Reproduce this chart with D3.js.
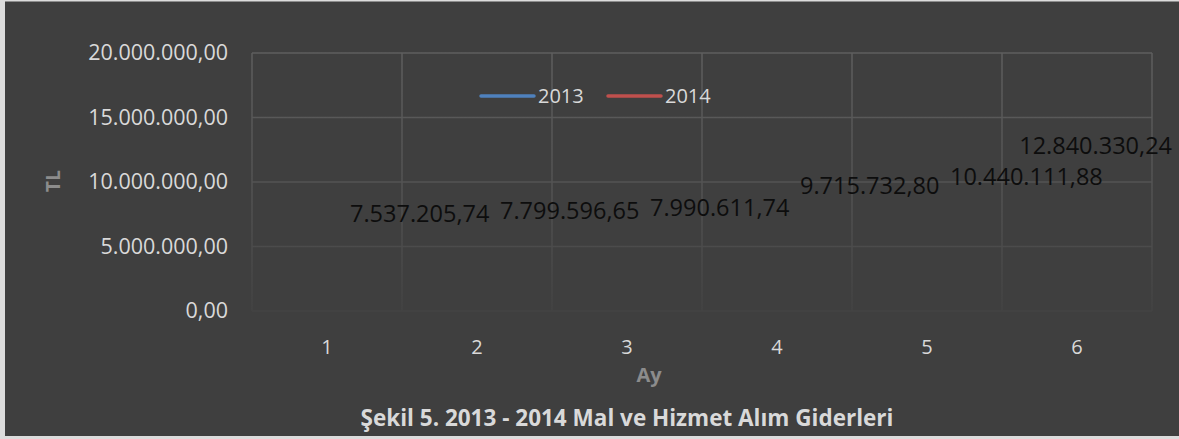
<!DOCTYPE html>
<html>
<head>
<meta charset="utf-8">
<script src="https://cdn.jsdelivr.net/npm/d3@7"></script>
<style>
  html, body { margin: 0; padding: 0; background: #dcdcdc; }
  svg { display: block; font-family: "Open Sans", sans-serif; }
</style>
</head>
<body>
<svg id="chart" width="1179" height="439"></svg>
<script>
const months = [1, 2, 3, 4, 5, 6];
const seriesNames = ['2013', '2014'];
const seriesColors = ['#4f81bd', '#c0504d'];
const values2013 = [7537205.74, 7799596.65, 7990611.74, 9715732.80, 10440111.88, 12840330.24];
const values2014 = [];
const yTicks = [0, 5000000, 10000000, 15000000, 20000000];

const width = 1179;
const height = 439;
const margin = { top: 53, right: 27, bottom: 131, left: 252 };

const tr = d3.formatLocale({ decimal: ',', thousands: '.', grouping: [3], currency: ['', ''] });
const fmt = tr.format(',.2f');

const svg = d3.select('#chart');

// chart area background
svg.append('rect')
  .attr('x', 5).attr('y', 1.5)
  .attr('width', width - 5).attr('height', 434.5)
  .attr('fill', '#3f3f3f');

const x = d3.scaleBand()
  .domain(months)
  .range([margin.left, width - margin.right])
  .padding(0);

const y = d3.scaleLinear()
  .domain([0, 20000000])
  .range([height - margin.bottom + 3, margin.top]);

// gridlines fade towards the bottom
const defs = svg.append('defs');
const grad = defs.append('linearGradient')
  .attr('id', 'gridFade')
  .attr('gradientUnits', 'userSpaceOnUse')
  .attr('x1', 0).attr('x2', 0)
  .attr('y1', y(20000000)).attr('y2', y(0));
grad.append('stop').attr('offset', '0%').attr('stop-color', '#5e5e5e');
grad.append('stop').attr('offset', '55%').attr('stop-color', '#525252');
grad.append('stop').attr('offset', '100%').attr('stop-color', '#434343');

const grid = svg.append('g');
grid.selectAll('line.h')
  .data(yTicks)
  .join('line')
  .attr('class', 'h')
  .attr('x1', margin.left)
  .attr('x2', width - margin.right)
  .attr('y1', d => y(d))
  .attr('y2', d => y(d))
  .attr('stroke', 'url(#gridFade)')
  .attr('stroke-width', 1.5);

const bounds = months.map(m => x(m)).concat([x(months[months.length - 1]) + x.bandwidth()]);
grid.selectAll('line.v')
  .data(bounds)
  .join('line')
  .attr('class', 'v')
  .attr('x1', d => d)
  .attr('x2', d => d)
  .attr('y1', y(20000000))
  .attr('y2', y(0))
  .attr('stroke', 'url(#gridFade)')
  .attr('stroke-width', 1.5);

// y axis labels
const yAxis = svg.append('g')
  .attr('transform', `translate(${margin.left - 24},0)`)
  .call(d3.axisLeft(y).tickValues(yTicks).tickSize(0).tickPadding(0).tickFormat(fmt));
yAxis.select('.domain').remove();
yAxis.selectAll('text')
  .attr('fill', '#d9d9d9')
  .attr('font-size', '21.5px')
  .attr('font-family', '"Open Sans", sans-serif');

// x axis labels
const xAxis = svg.append('g')
  .attr('transform', `translate(0,${y(0) + 29})`)
  .call(d3.axisBottom(x).tickSize(0).tickPadding(0));
xAxis.select('.domain').remove();
xAxis.selectAll('text')
  .attr('fill', '#d9d9d9')
  .attr('font-size', '20px')
  .attr('font-family', '"Open Sans", sans-serif');

// axis titles
svg.append('text')
  .attr('x', 649)
  .attr('y', 382)
  .attr('text-anchor', 'middle')
  .attr('fill', '#8c8c8c')
  .attr('font-weight', 'bold')
  .attr('font-size', '20px')
  .text('Ay');

svg.append('text')
  .attr('transform', 'translate(60,181) rotate(-90)')
  .attr('text-anchor', 'middle')
  .attr('fill', '#8c8c8c')
  .attr('font-weight', 'bold')
  .attr('font-size', '19px')
  .text('TL');

// chart title
svg.append('text')
  .attr('x', 627)
  .attr('y', 426)
  .attr('text-anchor', 'middle')
  .attr('fill', '#d9d9d9')
  .attr('font-weight', 'bold')
  .attr('font-size', '22.5px')
  .text('Şekil 5. 2013 - 2014 Mal ve Hizmet Alım Giderleri');

// legend
const legendItems = [
  { name: seriesNames[0], color: seriesColors[0], x: 481 },
  { name: seriesNames[1], color: seriesColors[1], x: 608 }
];
const legend = svg.append('g');
legendItems.forEach(item => {
  legend.append('line')
    .attr('x1', item.x).attr('x2', item.x + 53)
    .attr('y1', 96).attr('y2', 96)
    .attr('stroke', item.color)
    .attr('stroke-width', 3.5)
    .attr('stroke-linecap', 'round');
  legend.append('text')
    .attr('x', item.x + 57)
    .attr('y', 96)
    .attr('dy', '0.35em')
    .attr('fill', '#d9d9d9')
    .attr('font-size', '20px')
    .text(item.name);
});

// series: lines are not visible in the source, only the data labels
const series = [
  { name: seriesNames[0], values: values2013 },
  { name: seriesNames[1], values: values2014 }
];
const labelRightLimit = 1172;
series.forEach(s => {
  const pts = s.values.map((v, i) => ({ m: months[i], v }));
  const labels = svg.append('g').selectAll('text')
    .data(pts)
    .join('text')
    .attr('y', d => y(d.v))
    .attr('dy', '0.35em')
    .attr('fill', '#0d0d0d')
    .attr('font-size', '23.5px')
    .text(d => fmt(d.v));
  labels.each(function(d) {
    const w = this.getComputedTextLength();
    let lx = x(d.m) + x.bandwidth() / 2 + 23;
    if (lx + w > labelRightLimit) lx = labelRightLimit - w;
    d3.select(this).attr('x', lx);
  });
});
</script>
</body>
</html>
